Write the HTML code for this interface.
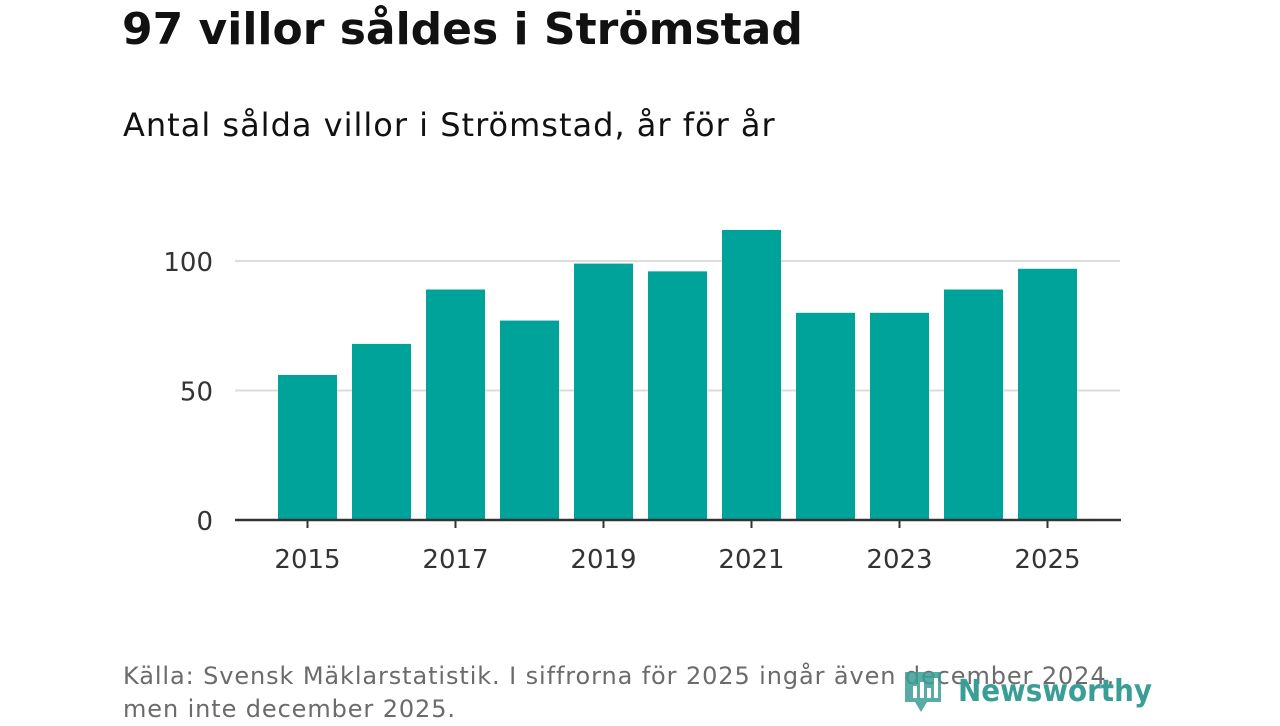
<!DOCTYPE html>
<html><head><meta charset="utf-8">
<style>
body{margin:0;width:1280px;height:720px;background:#fff;font-family:"DejaVu Sans","Liberation Sans",sans-serif;overflow:hidden;position:relative}
#title{position:absolute;left:122px;top:4px;font-size:44px;font-weight:bold;color:#111;margin:0;white-space:nowrap}
#subtitle{position:absolute;left:123px;top:106px;font-size:32px;color:#111;letter-spacing:1px;white-space:nowrap}
#source{position:absolute;left:123px;top:660px;font-size:24px;color:#6b6b6b;line-height:33px;letter-spacing:0.9px;white-space:nowrap}
#logo{position:absolute;left:903px;top:668px}
</style></head><body>
<h1 id="title">97 villor såldes i Strömstad</h1>
<div id="subtitle">Antal sålda villor i Strömstad, år för år</div>
<svg id="chart" width="1280" height="720" style="position:absolute;left:0;top:0"></svg>
<div id="source">Källa: Svensk Mäklarstatistik. I siffrorna för 2025 ingår även december 2024,<br>men inte december 2025.</div>
<svg id="logo" width="300" height="52">
<path d="M2 4 h36 v30 l-14 0 l-6 10 l-6 -10 h-10 z" fill="#3a9e96" opacity="0.85"/>
<rect x="10" y="18" width="4" height="12" fill="#fff"/><rect x="17" y="14" width="4" height="16" fill="#fff"/><rect x="24" y="20" width="4" height="10" fill="#fff"/><rect x="31" y="10" width="4" height="20" fill="#fff"/>
<text x="55" y="33" font-size="30" font-weight="bold" fill="#3a9e96" font-family="DejaVu Sans, sans-serif" textLength="194" lengthAdjust="spacingAndGlyphs">Newsworthy</text>
</svg>
<script>
const years=[2015,2016,2017,2018,2019,2020,2021,2022,2023,2024,2025];
const values=[56,68,89,77,99,96,112,80,80,89,97];
const yTicks=[0,50,100];
const xTickLabels=[2015,2017,2019,2021,2023,2025];
const NS="http://www.w3.org/2000/svg";
const svg=document.getElementById('chart');
const x0=235,x1=1121,y0=520,pxPerUnit=2.59;
const step=74,firstCenter=307.5,barW=59;
const y=v=>y0-v*pxPerUnit;
const x=yr=>firstCenter+(yr-years[0])*step;
function mk(tag,attrs){const e=document.createElementNS(NS,tag);for(const k in attrs)e.setAttribute(k,attrs[k]);svg.appendChild(e);return e;}
yTicks.forEach(t=>{
  if(t>0){const g=mk('line',{x1:x0,x2:x1-1,y1:y(t),y2:y(t),stroke:'#dcdcdc','stroke-width':2});
  
  }
  const l=mk('text',{x:213,y:y(t)+10,'text-anchor':'end','font-size':26,fill:'#333','font-family':'DejaVu Sans, sans-serif'});
  l.textContent=t;
  
  
});
years.forEach((yr,i)=>{
  const b=mk('rect',{x:x(yr)-barW/2,y:y(values[i]),width:barW,height:values[i]*pxPerUnit,fill:'#00a39a'});
  
  
});
const ax=mk('line',{x1:x0,x2:x1,y1:y0,y2:y0,stroke:'#333','stroke-width':2.5});


xTickLabels.forEach(yr=>{
  const tk=mk('line',{x1:x(yr),x2:x(yr),y1:y0,y2:y0+8,stroke:'#333','stroke-width':2});
  
  
  const l=mk('text',{x:x(yr),y:568,'text-anchor':'middle','font-size':26,fill:'#333','font-family':'DejaVu Sans, sans-serif'});
  l.textContent=yr;
  
  
});
</script>
</body></html>
